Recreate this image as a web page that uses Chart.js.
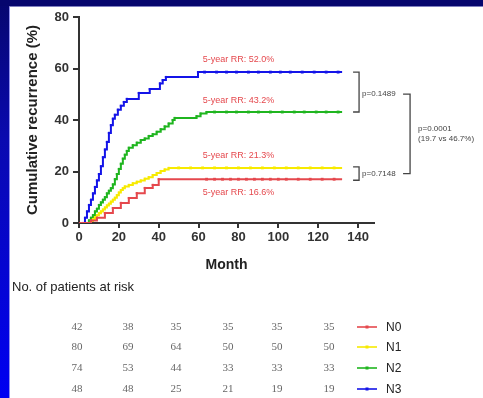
<!DOCTYPE html>
<html><head><meta charset="utf-8">
<style>html,body{margin:0;padding:0;background:#fff;overflow:hidden}canvas{display:block}</style>
<script src="https://cdn.jsdelivr.net/npm/chart.js@4"></script>
</head><body>
<canvas id="c" width="483" height="398"></canvas>
<script>
// ---- data ----
const seriesNames = ['N0', 'N1', 'N2', 'N3'];
const seriesColors = ['#e5484d', '#f7ea00', '#1fb51f', '#1414e8'];

const n0Time  = [0, 6, 9, 13, 17, 21, 25, 29, 33, 37, 40, 132];
const n0Value = [0, 1, 2, 3.9, 5.8, 7.8, 9.7, 11.6, 13.6, 14.8, 17, 17];

const n1Time  = [0, 5, 6, 7, 8, 9, 10, 11, 12, 13, 14, 15, 16, 17, 18, 19, 20, 21, 22, 23, 25, 27, 29, 31, 33, 35, 37, 39, 41, 43, 45, 132];
const n1Value = [0, 0, 0.8, 1.5, 2.2, 3, 3.8, 4.5, 5.2, 6, 6.8, 7.5, 8.3, 9, 9.8, 10.8, 11.8, 12.8, 13.5, 14.2, 14.8, 15.4, 16, 16.5, 17.2, 17.8, 18.6, 19.4, 20.2, 20.8, 21.4, 21.4];

const n2Time  = [0, 4, 5, 6, 7, 8, 9, 10, 11, 12, 13, 14, 15, 16, 17, 18, 19, 20, 21, 22, 23, 24, 25, 27, 29, 31, 33, 35, 37, 39, 41, 43, 45, 47, 48, 59, 61, 64, 132];
const n2Value = [0, 0, 1, 2, 3, 4.5, 5.5, 7, 8, 9, 10, 11.5, 12.5, 13.5, 15, 17, 19, 21, 23, 25, 26.5, 28, 29.2, 30.2, 31.2, 32.2, 32.8, 33.8, 34.5, 35.4, 36.4, 37.5, 38.6, 40, 40.8, 41.5, 42.5, 43.1, 43.1];

const n3Time  = [0, 2, 3, 4, 5, 6, 7, 8, 9, 10, 11, 12, 13, 14, 15, 16, 17, 18, 19.5, 21, 22.5, 24, 30, 35.5, 40.6, 42, 43.6, 59.7, 132];
const n3Value = [0, 0, 2, 4.5, 7, 9, 11.5, 14, 16.5, 19, 22, 25.5, 28.5, 31.5, 35, 38, 40.5, 42, 44, 45.5, 47, 48.2, 50.5, 52, 54.2, 55.5, 56.7, 58.6, 58.6];

// censoring marks on plateaus (months)
const n0Censor = [64, 68, 72, 76, 80, 84, 88, 92, 96, 100, 104, 110, 116, 122, 128];
const n1Censor = [50, 56, 62, 68, 74, 80, 86, 92, 98, 104, 110, 116, 122, 128];
const n2Censor = [68, 74, 79, 85, 90, 96, 102, 108, 113, 119, 124, 130];
const n3Censor = [63, 69, 74, 79, 85, 90, 96, 101, 106, 112, 118, 124, 130];

const rrLabels = ['5-year RR: 16.6%', '5-year RR: 21.3%', '5-year RR: 43.2%', '5-year RR: 52.0%'];
const pLabels = ['p=0.1489', 'p=0.7148', 'p=0.0001', '(19.7 vs 46.7%)'];

const xTickValues = [0, 20, 40, 60, 80, 100, 120, 140];
const yTickValues = [0, 20, 40, 60, 80];

const riskN0 = [42, 38, 35, 35, 35, 35];
const riskN1 = [80, 69, 64, 50, 50, 50];
const riskN2 = [74, 53, 44, 33, 33, 33];
const riskN3 = [48, 48, 25, 21, 19, 19];

// ---- build ----
const times = [n0Time, n1Time, n2Time, n3Time];
const values = [n0Value, n1Value, n2Value, n3Value];
const censors = [n0Censor, n1Censor, n2Censor, n3Censor];
const risks = [riskN0, riskN1, riskN2, riskN3];

const datasets = [];
seriesNames.forEach((name, i) => {
  datasets.push({
    label: name,
    data: times[i].map((t, k) => ({x: t, y: values[i][k]})),
    borderColor: seriesColors[i],
    backgroundColor: seriesColors[i],
    borderWidth: 2,
    stepped: true,
    fill: false,
    pointStyle: 'rect',
    pointRadius: times[i].map((t, k) => (k === 0 || k === times[i].length - 1) ? 0 : 1.5),
    pointBorderWidth: 0,
    pointBackgroundColor: seriesColors[i]
  });
});
seriesNames.forEach((name, i) => {
  const last = values[i][values[i].length - 1];
  datasets.push({
    label: name + ' censored',
    data: censors[i].map(t => ({x: t, y: last})),
    showLine: false,
    pointStyle: 'rect',
    pointRadius: 2,
    pointBorderWidth: 0,
    pointBackgroundColor: seriesColors[i],
    backgroundColor: seriesColors[i]
  });
});

const bgPlugin = {
  id: 'bg',
  beforeDraw(chart) {
    const ctx = chart.ctx;
    ctx.save();
    ctx.fillStyle = '#ffffff';
    ctx.fillRect(0, 0, chart.width, chart.height);
    const g = ctx.createLinearGradient(0, 0, 0, chart.height);
    g.addColorStop(0, '#06066e');
    g.addColorStop(0.35, '#0a0ab0');
    g.addColorStop(1, '#0000f2');
    ctx.fillStyle = g;
    ctx.fillRect(0, 0, 9, chart.height);
    ctx.fillStyle = '#9090f0';
    ctx.fillRect(9, 7, 1, chart.height);
    ctx.fillStyle = '#06066e';
    ctx.fillRect(0, 0, chart.width, 6);
    ctx.fillStyle = '#8080c0';
    ctx.fillRect(9, 6, chart.width, 1);
    ctx.restore();
  }
};

const annPlugin = {
  id: 'ann',
  afterDatasetsDraw(chart) {
    const ctx = chart.ctx;
    const xs = chart.scales.x, ys = chart.scales.y;
    const endY = values.map(v => ys.getPixelForValue(v[v.length - 1]));
    ctx.save();
    ctx.font = '9px "Liberation Sans", Arial, sans-serif';
    ctx.fillStyle = '#e5484d';
    ctx.textAlign = 'center';
    ctx.textBaseline = 'middle';
    const lx = xs.getPixelForValue(80);
    ctx.fillText(rrLabels[3], lx, endY[3] - 13);
    ctx.fillText(rrLabels[2], lx, endY[2] - 12);
    ctx.fillText(rrLabels[1], lx, endY[1] - 12);
    ctx.fillText(rrLabels[0], lx, endY[0] + 13);
    const bx0 = xs.getPixelForValue(137.5), bx1 = bx0 + 6;
    ctx.strokeStyle = '#444';
    ctx.lineWidth = 1.3;
    const bracket = (ya, yb) => {
      ctx.beginPath();
      ctx.moveTo(bx0, ya); ctx.lineTo(bx1, ya); ctx.lineTo(bx1, yb); ctx.lineTo(bx0, yb);
      ctx.stroke();
    };
    bracket(endY[3], endY[2]);
    bracket(endY[1] - 1, endY[0] + 1);
    const m1 = (endY[3] + endY[2]) / 2 + 2;
    const m2 = (endY[1] + endY[0]) / 2;
    ctx.font = '8px "Liberation Sans", Arial, sans-serif';
    ctx.fillStyle = '#444';
    ctx.textAlign = 'left';
    ctx.fillText(pLabels[0], bx1 + 3, m1);
    ctx.fillText(pLabels[1], bx1 + 3, m2);
    const vx = bx1 + 51;
    ctx.beginPath();
    ctx.moveTo(bx1 + 44, m1); ctx.lineTo(vx, m1); ctx.lineTo(vx, m2); ctx.lineTo(bx1 + 44, m2);
    ctx.stroke();
    const mm = (m1 + m2) / 2;
    ctx.fillText(pLabels[2], vx + 8, mm - 5);
    ctx.fillText(pLabels[3], vx + 8, mm + 5);
    ctx.restore();
  },
  afterDraw(chart) {
    const ctx = chart.ctx;
    ctx.save();
    ctx.font = '13px "Liberation Sans", Arial, sans-serif';
    ctx.fillStyle = '#222';
    ctx.textAlign = 'left';
    ctx.textBaseline = 'middle';
    ctx.fillText('No. of patients at risk', 12, 287);
    const colX = [77, 128, 176, 228, 277, 329];
    const rowY = [327, 347, 368, 389];
    ctx.font = '11px "Liberation Serif", "Times New Roman", serif';
    ctx.fillStyle = '#666';
    ctx.textAlign = 'center';
    risks.forEach((row, r) => {
      row.forEach((n, c) => ctx.fillText(String(n), colX[c], rowY[r]));
    });
    seriesNames.forEach((name, r) => {
      ctx.strokeStyle = seriesColors[r];
      ctx.lineWidth = 1.6;
      ctx.beginPath();
      ctx.moveTo(357, rowY[r]); ctx.lineTo(377, rowY[r]);
      ctx.stroke();
      ctx.fillStyle = seriesColors[r];
      ctx.fillRect(365.5, rowY[r] - 1.5, 3, 3);
      ctx.fillStyle = '#222';
      ctx.font = '12px "Liberation Sans", Arial, sans-serif';
      ctx.textAlign = 'left';
      ctx.fillText(name, 386, rowY[r] + 1);
    });
    ctx.restore();
  }
};

new Chart(document.getElementById('c'), {
  type: 'line',
  data: {datasets},
  options: {
    responsive: false,
    animation: false,
    devicePixelRatio: 1,
    layout: {padding: {left: 0, top: 17, right: 109, bottom: 124}},
    plugins: {legend: {display: false}, tooltip: {enabled: false}},
    scales: {
      x: {
        type: 'linear', min: 0, max: 148,
        afterFit: s => { s.height = 51; },
        afterBuildTicks: s => { s.ticks = xTickValues.map(v => ({value: v})); },
        ticks: {includeBounds: false, stepSize: 20, padding: 2, color: '#333',
          font: {family: '"Liberation Sans", Arial, sans-serif', weight: 'bold', size: 13}},
        grid: {drawOnChartArea: false, drawTicks: true, tickLength: 5, color: '#333', lineWidth: 2},
        border: {display: true, color: '#333', width: 2},
        title: {display: true, text: 'Month', color: '#222', padding: {top: 4, bottom: 0},
          font: {family: '"Liberation Sans", Arial, sans-serif', weight: 'bold', size: 14}}
      },
      y: {
        type: 'linear', min: 0, max: 80,
        afterFit: s => { s.width = 79; },
        afterBuildTicks: s => { s.ticks = yTickValues.map(v => ({value: v})); },
        ticks: {padding: 4, color: '#333',
          font: {family: '"Liberation Sans", Arial, sans-serif', weight: 'bold', size: 13}},
        grid: {drawOnChartArea: false, drawTicks: true, tickLength: 6, color: '#333', lineWidth: 2},
        border: {display: true, color: '#333', width: 2},
        title: {display: true, text: 'Cumulative recurrence (%)', color: '#222', padding: {top: 24, bottom: 0},
          font: {family: '"Liberation Sans", Arial, sans-serif', weight: 'bold', size: 15}}
      }
    }
  },
  plugins: [bgPlugin, annPlugin]
});
</script>
</body></html>
